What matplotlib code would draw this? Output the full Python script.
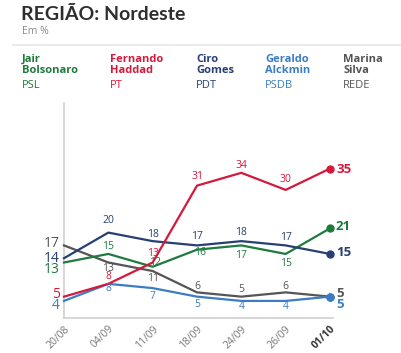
import matplotlib
matplotlib.use("Agg")
import matplotlib.pyplot as plt
from matplotlib.lines import Line2D

plt.rcParams['font.family'] = ['Open Sans', 'DejaVu Sans']

dates = ["20/08", "04/09", "11/09", "18/09", "24/09", "26/09", "01/10"]
bolsonaro = [13, 15, 12, 16, 17, 15, 21]
haddad = [5, 8, 13, 31, 34, 30, 35]
ciro = [14, 20, 18, 17, 18, 17, 15]
alckmin = [4, 8, 7, 5, 4, 4, 5]
marina = [17, 13, 11, 6, 5, 6, 5]

names = ["Jair\nBolsonaro", "Fernando\nHaddad", "Ciro\nGomes", "Geraldo\nAlckmin", "Marina\nSilva"]
parties = ["PSL", "PT", "PDT", "PSDB", "REDE"]

colors = ["#1f7a3e", "#d41a3c", "#273f73", "#3b7dc4", "#555555"]
series = [bolsonaro, haddad, ciro, alckmin, marina]

W, H = 401, 353
fig = plt.figure(figsize=(W / 100, H / 100), dpi=100)

def fx(px):
    return px / W

def fy(py):
    return 1 - py / H

# Header
fig.text(fx(21), fy(15), "REGIÃO: Nordeste", fontsize=14, fontweight='bold', color='#2e2e2e',
         va='center', ha='left', family=['Lato', 'DejaVu Sans'])
fig.text(fx(22), fy(32), "Em %", fontsize=7.5, color='#8a8a8a', va='center', ha='left')
fig.add_artist(Line2D([fx(13), fx(401)], [fy(45), fy(45)], color='#e6e6e6', lw=1.2))

legend_x = [22, 110, 196, 265, 343]
for x, nm, pt, c in zip(legend_x, names, parties, colors):
    fig.text(fx(x), fy(54), nm, fontsize=8, fontweight='bold', color=c, va='top', ha='left', linespacing=1.0)
    fig.text(fx(x), fy(85), pt, fontsize=8, color=c, va='center', ha='left')

# Axes
ax_left, ax_right, ax_top, ax_bottom = 64, 333, 103, 318
ax = fig.add_axes([fx(ax_left), fy(ax_bottom), (ax_right - ax_left) / W, (ax_bottom - ax_top) / H])
xs = list(range(len(dates)))
unit = (330 - 64) / 6
ax.set_xlim(0, (ax_right - ax_left) / unit)
ax.set_ylim(0, (ax_bottom - ax_top) / 4.27)
for s in ['top', 'right']:
    ax.spines[s].set_visible(False)
for s in ['left', 'bottom']:
    ax.spines[s].set_color('#d0d0d0')
    ax.spines[s].set_linewidth(1.2)
ax.set_yticks([])
ax.set_xticks(xs)
ax.set_xticklabels(dates, rotation=45, ha='right', va='top', rotation_mode='anchor', fontsize=7.5, color='#777777')
ax.tick_params(axis='x', length=0, pad=4)
lbls = ax.get_xticklabels()
lbls[-1].set_fontweight('bold')
lbls[-1].set_color('#333333')

# Draw order: gray, blue, green, navy, red
order = [4, 3, 0, 2, 1]
for i in order:
    ax.plot(xs, series[i], color=colors[i], lw=1.6, solid_joinstyle='round', clip_on=False, zorder=3)
    ax.plot(xs[-1], series[i][-1], 'o', color=colors[i], ms=5, clip_on=False, zorder=4)

# start labels (pixel offsets, positive = up)
start_off = {0: -7, 1: 2.5, 2: 0, 3: -5, 4: 1.5}
for i in range(5):
    ax.annotate(str(series[i][0]), (0, series[i][0]), xytext=(-4, start_off[i]), textcoords='offset pixels',
                ha='right', va='center', fontsize=10, color=colors[i], annotation_clip=False)

# end labels
end_off = {0: 1.5, 1: -0.5, 2: 1, 3: -8, 4: 3.5}
for i in range(5):
    ax.annotate(str(series[i][-1]), (6, series[i][-1]), xytext=(6, end_off[i]), textcoords='offset pixels',
                ha='left', va='center', fontsize=9.5, fontweight='bold', color=colors[i], annotation_clip=False)

# inner labels: offsets in pixels (dx, dy) with dy positive = up
inner = {
    0: [None, (0, 7), (2, 4), (3, -3), (0, -10), (0, -10)],
    1: [None, (0, 7), (0, 9), (0, 9), (0, 7), (0, 10)],
    2: [None, (0, 12), (0, 7), (0, 9), (0, 9), (0, 8)],
    3: [None, (0, -5), (0, -8), (0, -8), (0, -6), (0, -6)],
    4: [None, (0, -6), (0, -7), (0, 6), (0, 7), (0, 6)],
}
for i in range(5):
    for j in range(1, 6):
        dx, dy = inner[i][j]
        ax.annotate(str(series[i][j]), (j, series[i][j]), xytext=(dx, dy), textcoords='offset pixels',
                    ha='center', va='center', fontsize=7.5, color=colors[i], annotation_clip=False, zorder=5)

fig.savefig("out.png", dpi=100)
